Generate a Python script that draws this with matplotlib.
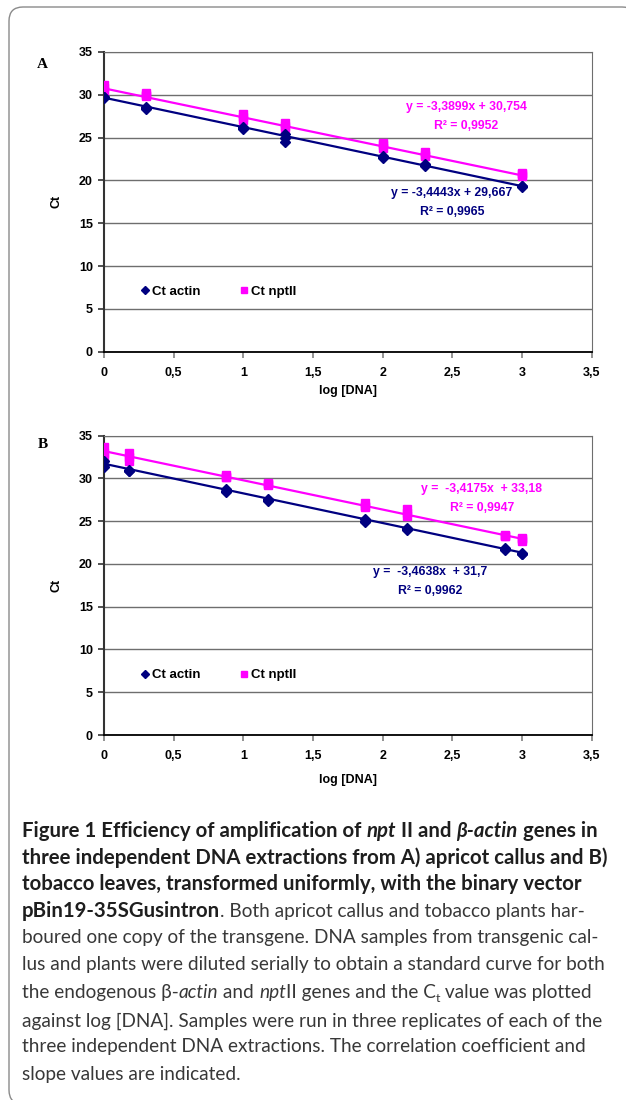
import matplotlib
matplotlib.use("Agg")
import matplotlib.pyplot as plt
import numpy as np
from matplotlib.patches import FancyBboxPatch
from matplotlib.lines import Line2D

# --- Data (Ct values, three replicates per dilution) ---
x_a = [0, 0.301, 1, 1.301, 2, 2.301, 3]
actin_a = [[29.8, 29.6, 29.7], [28.6, 28.4, 28.5], [26.2, 26.0, 26.1], [25.4, 25.0, 24.5],
           [22.8, 22.6, 22.7], [21.9, 21.7, 21.8], [19.4, 19.2, 19.3]]
nptii_a = [[31.1, 30.8, 30.4], [30.2, 30.0, 29.9], [27.8, 27.4, 27.1], [26.7, 26.4, 26.1],
           [24.4, 24.1, 23.8], [23.3, 23.0, 22.8], [20.9, 20.7, 20.5]]
fit_actin_a = (-3.4443, 29.667)
fit_nptii_a = (-3.3899, 30.754)
eq_actin_a = ["y = -3,4443x + 29,667", "R² = 0,9965"]
eq_nptii_a = ["y = -3,3899x + 30,754", "R² = 0,9952"]

x_b = [0, 0.176, 0.875, 1.176, 1.875, 2.176, 2.875, 3]
actin_b = [[32.0, 31.5, 31.3], [31.0, 30.8, 30.9], [28.7, 28.4, 28.5], [27.6, 27.4, 27.5],
           [25.2, 24.9, 25.0], [24.2, 24.1, 24.0], [21.8, 21.6, 21.7], [21.3, 21.1, 21.2]]
nptii_b = [[33.7, 33.0, 32.5], [33.0, 32.5, 32.0], [30.4, 30.2, 30.1], [29.5, 29.3, 29.2],
           [27.1, 26.8, 26.6], [26.4, 26.0, 25.6], [23.4, 23.3, 23.2], [23.0, 22.9, 22.7]]
fit_actin_b = (-3.4638, 31.7)
fit_nptii_b = (-3.4175, 33.18)
eq_actin_b = ["y =  -3,4638x  + 31,7", "R² = 0,9962"]
eq_nptii_b = ["y =  -3,4175x  + 33,18", "R² = 0,9947"]

y_ticks = [0, 5, 10, 15, 20, 25, 30, 35]
x_ticks = [0, 0.5, 1, 1.5, 2, 2.5, 3, 3.5]
x_tick_labels = ["0", "0,5", "1", "1,5", "2", "2,5", "3", "3,5"]
legend_labels = ["Ct actin", "Ct nptII"]

NAVY = "#000080"
MAGENTA = "#FF00FF"
ARIAL = "Liberation Sans"

fig = plt.figure(figsize=(6.26, 11), dpi=100)
fig.patch.set_facecolor("white")

# background axes in pixel coordinates for frame + caption
bg = fig.add_axes([0, 0, 1, 1], zorder=-5)
bg.set_xlim(0, 626)
bg.set_ylim(1100, 0)
bg.axis("off")
bg.add_patch(FancyBboxPatch((9, 7), 627, 1097, boxstyle="round,pad=0,rounding_size=14",
                            facecolor="white", edgecolor="#8a8a8a", linewidth=1.0))


def draw_panel(ax, xs, actin, nptii, fit_act, fit_npt, eq_act, eq_npt, pos_act, pos_npt, xlab_y):
    for x, reps in zip(xs, nptii):
        ax.plot([x] * len(reps), reps, ls="none", marker="s", ms=5.5, color=MAGENTA, zorder=3)
    for x, reps in zip(xs, actin):
        ax.plot([x] * len(reps), reps, ls="none", marker="D", ms=5.5, color=NAVY, zorder=3)
    xx = np.array([min(xs), max(xs)])
    ax.plot(xx, fit_npt[0] * xx + fit_npt[1], color=MAGENTA, lw=1.6, zorder=2)
    ax.plot(xx, fit_act[0] * xx + fit_act[1], color=NAVY, lw=1.6, zorder=2)

    for (lines, pos, col) in [(eq_npt, pos_npt, MAGENTA), (eq_act, pos_act, NAVY)]:
        ax.text(pos[0], pos[1], lines[0], color=col, fontsize=8.8, fontweight="bold",
                family=ARIAL, ha="center", va="center")
        ax.text(pos[0], pos[1] - 2.2, lines[1], color=col, fontsize=8.8, fontweight="bold",
                family=ARIAL, ha="center", va="center")

    ax.set_xlim(0, 3.5)
    ax.set_ylim(0, 35)
    ax.set_yticks(y_ticks)
    ax.set_xticks(x_ticks)
    ax.set_xticklabels(x_tick_labels)
    for lab in ax.get_xticklabels() + ax.get_yticklabels():
        lab.set_fontweight("bold")
        lab.set_family(ARIAL)
        lab.set_fontsize(9)
    ax.tick_params(axis="y", length=4, width=1.2, color="#333333", pad=4)
    ax.tick_params(axis="x", length=4, width=1.2, color="#808080", pad=7)
    ax.yaxis.grid(True, color="#6e6e6e", lw=1.0)
    ax.set_axisbelow(True)
    ax.spines["left"].set_color("#333333")
    ax.spines["left"].set_linewidth(1.5)
    ax.spines["bottom"].set_color("#000000")
    ax.spines["bottom"].set_linewidth(1.3)
    ax.spines["top"].set_color("#6e6e6e")
    ax.spines["right"].set_color("#6e6e6e")

    ax.text(-0.097, 0.5, "Ct", rotation=90, ha="center", va="center", transform=ax.transAxes,
            fontsize=9, fontweight="bold", family=ARIAL)
    ax.text(0.5, xlab_y, "log [DNA]", ha="center", va="center", transform=ax.transAxes,
            fontsize=9, fontweight="bold", family=ARIAL)

    handles = [Line2D([], [], ls="none", marker="D", ms=4, color=NAVY),
               Line2D([], [], ls="none", marker="s", ms=5, color=MAGENTA)]
    ax.legend(handles, legend_labels, ncol=2, frameon=False, loc="center",
              bbox_to_anchor=(0.235, 0.2), handlelength=0.6, handletextpad=0.25,
              columnspacing=3.0, prop={"family": ARIAL, "weight": "bold", "size": 9.5})


ax_a = fig.add_axes([104 / 626, 1 - 351.7 / 1100, 487.7 / 626, 299.7 / 1100])
draw_panel(ax_a, x_a, actin_a, nptii_a, fit_actin_a, fit_nptii_a, eq_actin_a, eq_nptii_a,
           (2.496, 18.5), (2.599, 28.54), -0.131)

ax_b = fig.add_axes([104 / 626, 1 - 735 / 1100, 487.7 / 626, 299.5 / 1100])
draw_panel(ax_b, x_b, actin_b, nptii_b, fit_actin_b, fit_nptii_b, eq_actin_b, eq_nptii_b,
           (2.34, 19.08), (2.711, 28.75), -0.15)

fig.text(42.7 / 626, 1 - 64 / 1100, "A", family="Liberation Serif", fontweight="bold",
         fontsize=11, ha="center", va="center")
fig.text(42.7 / 626, 1 - 445 / 1100, "B", family="Liberation Serif", fontweight="bold",
         fontsize=11, ha="center", va="center")

# --- Caption ---
caption = [
    [("Figure 1 Efficiency of amplification of ", "b"), ("npt", "bi"), (" II and ", "b"),
     ("β-actin", "bi"), (" genes in", "b")],
    [("three independent DNA extractions from A) apricot callus and B)", "b")],
    [("tobacco leaves, transformed uniformly, with the binary vector", "b")],
    [("pBin19-35SGusintron", "b"), (". Both apricot callus and tobacco plants har-", "n")],
    [("boured one copy of the transgene. DNA samples from transgenic cal-", "n")],
    [("lus and plants were diluted serially to obtain a standard curve for both", "n")],
    [("the endogenous β-", "n"), ("actin", "i"), (" and ", "n"), ("npt", "i"),
     ("II genes and the C", "n"), ("t", "sub"), (" value was plotted", "n")],
    [("against log [DNA]. Samples were run in three replicates of each of the", "n")],
    [("three independent DNA extractions. The correlation coefficient and", "n")],
    [("slope values are indicated.", "n")],
]
baselines = [837, 864, 890, 917, 943, 970, 998, 1027, 1052, 1080]

CAP_FAMILY = ["Lato", "DejaVu Sans"]
renderer = fig.canvas.get_renderer()


def text_width(s, **kw):
    t = bg.text(0, 0, s + "|", **kw)
    w1 = t.get_window_extent(renderer).width
    t.remove()
    t = bg.text(0, 0, "|", **kw)
    w2 = t.get_window_extent(renderer).width
    t.remove()
    return w1 - w2


w_n = text_width(caption[5][0][0], family=CAP_FAMILY, fontsize=10, fontweight="normal")
w_b = text_width(caption[1][0][0], family=CAP_FAMILY, fontsize=10, fontweight="bold")
size_n = 10 * 585 / w_n
size_b = 10 * 585 / w_b

STYLES = {
    "b": dict(fontweight="bold", fontsize=size_b, color="#1e1e1e"),
    "bi": dict(fontweight="bold", fontstyle="italic", fontsize=size_b, color="#1e1e1e"),
    "n": dict(fontweight="normal", fontsize=size_n, color="#383838"),
    "i": dict(fontweight="normal", fontstyle="italic", fontsize=size_n, color="#383838"),
    "sub": dict(fontweight="normal", fontsize=size_n * 0.65, color="#383838"),
}

for parts, yb in zip(caption, baselines):
    x = 22
    for txt, style in parts:
        kw = dict(STYLES[style], family=CAP_FAMILY)
        y = yb + 4 if style == "sub" else yb
        bg.text(x, y, txt, ha="left", va="baseline", **kw)
        x += text_width(txt, **kw)

fig.savefig("out.png", dpi=100)
